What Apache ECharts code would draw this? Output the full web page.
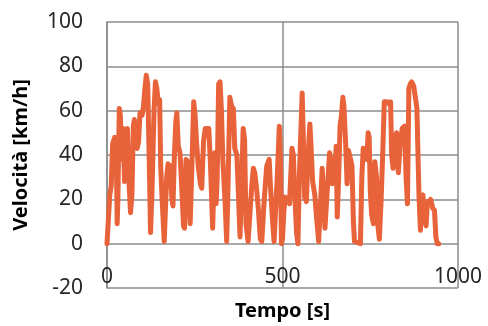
<!DOCTYPE html>
<html>
<head>
<meta charset="utf-8">
<script src="https://cdn.jsdelivr.net/npm/echarts@6/dist/echarts.min.js"></script>
<style>
  html, body { margin: 0; padding: 0; background: #fff; }
  #speedChart { width: 488px; height: 326px; }
</style>
</head>
<body>
<div id="speedChart"></div>
<script>
// speed profile
const timeS = [0, 4, 8, 12, 16, 22, 26, 29, 31, 35, 38, 42, 46, 50, 54, 58, 62, 67, 71, 75,
  78, 82, 86, 90, 94, 100, 104, 108, 112, 116, 120, 124, 128, 134, 138, 142, 146, 150, 153, 157,
  163, 166, 170, 174, 180, 185, 188, 192, 196, 199, 203, 208, 213, 218, 221, 225, 230, 234, 237, 241,
  247, 251, 255, 260, 266, 270, 275, 280, 290, 295, 301, 307, 311, 314, 318, 322, 326, 330, 336, 341,
  344, 350, 355, 360, 364, 370, 375, 379, 384, 388, 392, 396, 402, 407, 412, 417, 421, 426, 431, 437,
  441, 448, 455, 462, 466, 471, 476, 480, 485, 491, 494, 497, 500, 504, 508, 514, 520, 527, 531, 535,
  540, 544, 548, 556, 559, 563, 568, 573, 578, 581, 586, 592, 598, 603, 606, 613, 617, 621, 626, 634,
  638, 642, 648, 653, 656, 660, 664, 668, 672, 675, 680, 684, 688, 694, 698, 702, 705, 722, 726, 730,
  735, 740, 744, 747, 750, 754, 759, 763, 768, 772, 776, 781, 785, 790, 798, 804, 808, 811, 815, 820,
  825, 830, 835, 841, 848, 852, 856, 860, 864, 868, 874, 879, 883, 886, 889, 893, 897, 900, 905, 909,
  913, 918, 922, 928, 933, 937, 941, 945];
const speedKmh = [0, 0, 22, 26, 45, 48, 47, 9, 20, 61, 58, 38, 52, 28, 33, 52, 30, 14, 22, 53,
  56, 45, 43, 46, 59, 58, 62, 70, 76, 72, 40, 5, 22, 60, 73, 70, 63, 65, 35, 20,
  1, 1, 30, 36, 35, 20, 17, 40, 55, 59, 44, 41, 25, 8, 7, 38, 37, 20, 9, 30,
  64, 58, 46, 35, 27, 25, 46, 52, 52, 35, 7, 41, 18, 30, 72, 73, 60, 38, 20, 1,
  20, 66, 62, 61, 43, 40, 20, 3, 30, 52, 47, 9, 1, 1, 25, 34, 32, 25, 16, 2,
  1, 20, 35, 38, 25, 12, 1, 1, 30, 53, 40, 0, 2, 15, 21, 20, 18, 43, 40, 22,
  5, 0, 30, 68, 50, 21, 19, 40, 54, 45, 28, 22, 10, 1, 1, 34, 20, 7, 20, 41,
  38, 27, 30, 44, 12, 30, 53, 58, 66, 62, 45, 27, 42, 38, 35, 10, 1, 0, 30, 43,
  40, 38, 50, 48, 24, 13, 9, 37, 30, 8, 2, 20, 38, 64, 64, 63, 64, 40, 34, 48,
  50, 32, 44, 52, 53, 30, 18, 70, 72, 73, 71, 71, 61, 40, 21, 6, 21, 22, 12, 8,
  19, 18, 20, 16, 15, 3, 0, 0];
const xTicks = [0, 500, 1000];
const yTicks = [-20, 0, 20, 40, 60, 80, 100];

const points = timeS.map((t, i) => [t, speedKmh[i]]);

const gridGrey = '#8c8c8c';
const labelStyle = { color: '#262626', fontSize: 21, fontFamily: 'Noto Sans' };

const options = {
  animation: false,
  grid: { left: 107, right: 30, top: 22, bottom: 34 },
  xAxis: {
    type: 'value',
    min: xTicks[0],
    max: xTicks[xTicks.length - 1],
    interval: 500,
    name: 'Tempo [s]',
    nameLocation: 'middle',
    nameGap: 13,
    nameTextStyle: { color: '#000', fontSize: 20, fontWeight: 'bold', fontFamily: 'Noto Sans' },
    axisLine: { show: false },
    axisTick: { show: false },
    axisLabel: Object.assign({ margin: -21, formatter: v => String(v) }, labelStyle),
    splitLine: { show: true, lineStyle: { color: gridGrey, width: 1.5 } }
  },
  yAxis: {
    type: 'value',
    min: yTicks[0],
    max: yTicks[yTicks.length - 1],
    interval: 20,
    name: 'Velocità [km/h]',
    nameLocation: 'middle',
    nameGap: 76,
    nameTextStyle: { color: '#000', fontSize: 20, fontWeight: 'bold', fontFamily: 'Noto Sans' },
    axisLine: { show: true, onZero: false, lineStyle: { color: gridGrey, width: 1.5 } },
    axisTick: { show: false },
    axisLabel: Object.assign({ margin: 24, formatter: v => String(v) }, labelStyle),
    splitLine: { show: true, lineStyle: { color: gridGrey, width: 1.5 } }
  },
  series: [{
    type: 'line',
    data: points,
    showSymbol: false,
    lineStyle: { color: '#e8623a', width: 5, join: 'round', cap: 'round' },
    z: 5
  }]
};

const chart = echarts.init(document.getElementById('speedChart'));
chart.setOption(options);
</script>
</body>
</html>
